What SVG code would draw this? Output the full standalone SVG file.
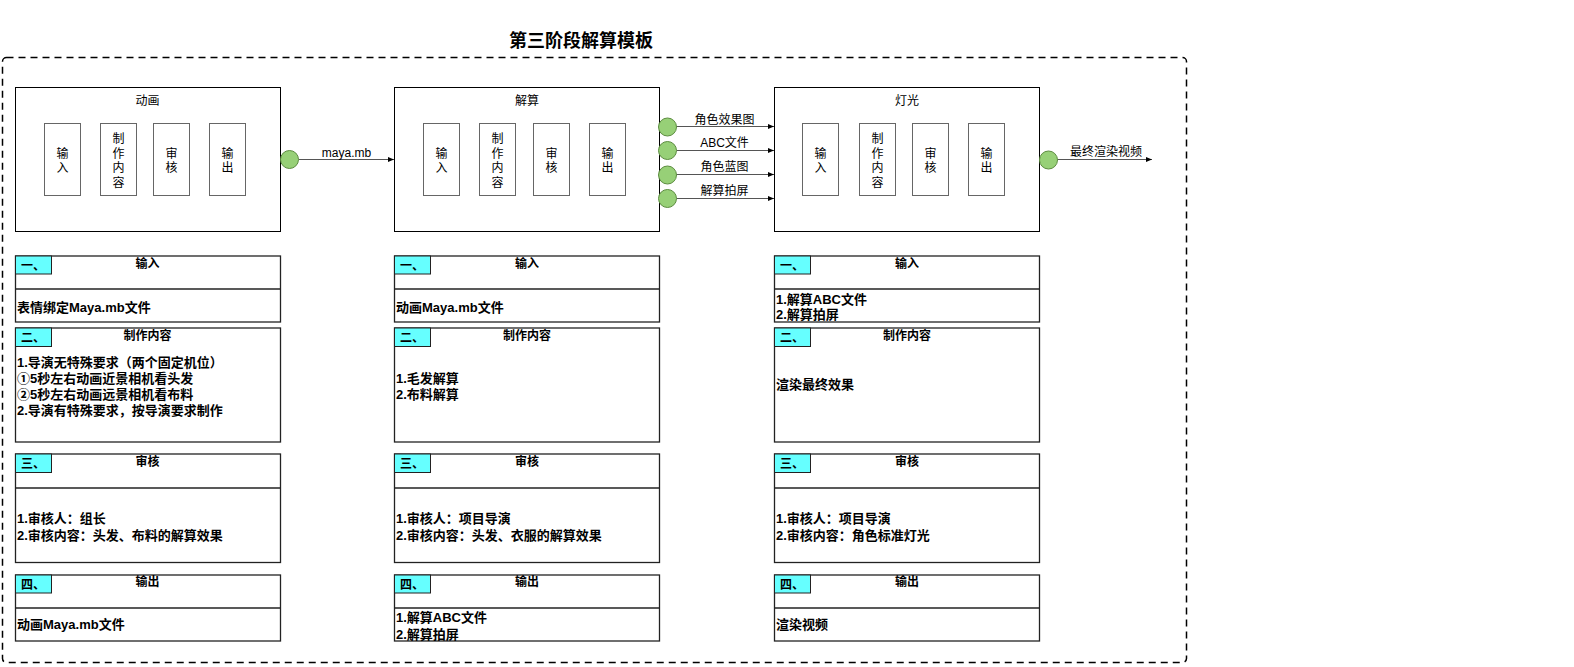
<svg xmlns="http://www.w3.org/2000/svg" width="1574" height="667" viewBox="0 0 1574 667">
<style>
text{font-family:"Liberation Sans","Noto Sans CJK SC",sans-serif;fill:#000}
.title{font-size:18px;font-weight:bold}
.nt{font-size:12px;text-anchor:middle}
.lbl{font-size:12px;text-anchor:middle}
.st{font-size:12px;font-weight:bold;text-anchor:middle}
.sl{font-size:12px;font-weight:bold}
.ct{font-size:13px;font-weight:bold}
.box{fill:#fff;stroke:#000;stroke-width:1}
.inner{fill:#fff;stroke:#666;stroke-width:1}
.sec{fill:#fff;stroke:#222;stroke-width:1.3}
.div{stroke:#222;stroke-width:1.3}
.cyan{fill:#66ffff;stroke:#222;stroke-width:1}
.dot{fill:#97d077;stroke:#5b8c3e;stroke-width:1}
.edge{stroke:#555;stroke-width:1;fill:none;marker-end:url(#arr)}
</style>
<defs>
<marker id="arr" viewBox="0 0 10 10" refX="10" refY="5" markerWidth="6" markerHeight="6" markerUnits="userSpaceOnUse" orient="auto">
<path d="M0,1 L10,5 L0,9 Z" fill="#000"/>
</marker>
</defs>
<rect x="0" y="0" width="1574" height="667" fill="#fff"/>
<text class="title" x="581" y="47" text-anchor="middle">第三阶段解算模板</text>
<rect id="container" x="2.5" y="57.5" width="1184" height="605" rx="4" ry="4" fill="none" stroke="#000" stroke-width="1.5" stroke-dasharray="7 5"/>

<g id="node-donghua">
<rect class="box" x="15.5" y="87.5" width="265" height="144"/>
<text class="nt" x="147.5" y="105">动画</text>
<rect class="inner" x="44.5" y="123.5" width="36" height="72"/>
<text class="nt" x="62.5" y="157.5">输</text><text class="nt" x="62.5" y="172">入</text>
<rect class="inner" x="100.5" y="123.5" width="36" height="72"/>
<text class="nt" x="118.5" y="143">制</text><text class="nt" x="118.5" y="157.5">作</text><text class="nt" x="118.5" y="172">内</text><text class="nt" x="118.5" y="187">容</text>
<rect class="inner" x="153.5" y="123.5" width="36" height="72"/>
<text class="nt" x="171.5" y="157.5">审</text><text class="nt" x="171.5" y="172">核</text>
<rect class="inner" x="209.5" y="123.5" width="36" height="72"/>
<text class="nt" x="227.5" y="157.5">输</text><text class="nt" x="227.5" y="172">出</text>
</g>

<g id="node-jiesuan">
<rect class="box" x="394.5" y="87.5" width="265" height="144"/>
<text class="nt" x="527" y="105">解算</text>
<rect class="inner" x="423.5" y="123.5" width="36" height="72"/>
<text class="nt" x="441.5" y="157.5">输</text><text class="nt" x="441.5" y="172">入</text>
<rect class="inner" x="479.5" y="123.5" width="36" height="72"/>
<text class="nt" x="497.5" y="143">制</text><text class="nt" x="497.5" y="157.5">作</text><text class="nt" x="497.5" y="172">内</text><text class="nt" x="497.5" y="187">容</text>
<rect class="inner" x="533.5" y="123.5" width="36" height="72"/>
<text class="nt" x="551.5" y="157.5">审</text><text class="nt" x="551.5" y="172">核</text>
<rect class="inner" x="589.5" y="123.5" width="36" height="72"/>
<text class="nt" x="607.5" y="157.5">输</text><text class="nt" x="607.5" y="172">出</text>
</g>

<g id="node-dengguang">
<rect class="box" x="774.5" y="87.5" width="265" height="144"/>
<text class="nt" x="907" y="105">灯光</text>
<rect class="inner" x="802.5" y="123.5" width="36" height="72"/>
<text class="nt" x="820.5" y="157.5">输</text><text class="nt" x="820.5" y="172">入</text>
<rect class="inner" x="859.5" y="123.5" width="36" height="72"/>
<text class="nt" x="877.5" y="143">制</text><text class="nt" x="877.5" y="157.5">作</text><text class="nt" x="877.5" y="172">内</text><text class="nt" x="877.5" y="187">容</text>
<rect class="inner" x="912.5" y="123.5" width="36" height="72"/>
<text class="nt" x="930.5" y="157.5">审</text><text class="nt" x="930.5" y="172">核</text>
<rect class="inner" x="968.5" y="123.5" width="36" height="72"/>
<text class="nt" x="986.5" y="157.5">输</text><text class="nt" x="986.5" y="172">出</text>
</g>

<g id="connectors">
<path class="edge" d="M298.5,159.5 L394,159.5"/>
<text class="lbl" x="346.5" y="156.5">maya.mb</text>
<path class="edge" d="M676.5,126.5 L774,126.5"/>
<text class="lbl" x="724.5" y="123.5">角色效果图</text>
<path class="edge" d="M676.5,150.5 L774,150.5"/>
<text class="lbl" x="724.5" y="146.5">ABC文件</text>
<path class="edge" d="M676.5,174.5 L774,174.5"/>
<text class="lbl" x="724.5" y="171">角色蓝图</text>
<path class="edge" d="M676.5,198.5 L774,198.5"/>
<text class="lbl" x="724.5" y="194.5">解算拍屏</text>
<path class="edge" d="M1057.5,159.5 L1152,159.5"/>
<text class="lbl" x="1106" y="156">最终渲染视频</text>
</g>

<g id="ports">
<circle class="dot" cx="289.5" cy="159.5" r="9"/>
<circle class="dot" cx="667.5" cy="127" r="9"/>
<circle class="dot" cx="667.5" cy="150.5" r="9"/>
<circle class="dot" cx="667.5" cy="175" r="9"/>
<circle class="dot" cx="667.5" cy="198.5" r="9"/>
<circle class="dot" cx="1048.5" cy="160" r="9"/>
</g>

<!-- Column A -->
<g id="a-input">
<rect class="sec" x="15.5" y="256" width="265" height="66"/>
<line class="div" x1="15.5" y1="289" x2="280.5" y2="289"/>
<rect class="cyan" x="15.5" y="256" width="36" height="18"/>
<text class="sl" x="21" y="269.5">一、</text>
<text class="st" x="147.5" y="268">输入</text>
<text class="ct" x="17" y="312">表情绑定Maya.mb文件</text>
</g>
<g id="a-make">
<rect class="sec" x="15.5" y="328" width="265" height="114"/>
<rect class="cyan" x="15.5" y="328" width="36" height="18.5"/>
<text class="sl" x="21" y="341.5">二、</text>
<text class="st" x="147.5" y="340">制作内容</text>
<text class="ct" x="17" y="367">1.导演无特殊要求（两个固定机位）</text>
<text class="ct" x="17" y="383">①5秒左右动画近景相机看头发</text>
<text class="ct" x="17" y="399">②5秒左右动画远景相机看布料</text>
<text class="ct" x="17" y="415">2.导演有特殊要求，按导演要求制作</text>
</g>
<g id="a-review">
<rect class="sec" x="15.5" y="454" width="265" height="108.5"/>
<line class="div" x1="15.5" y1="488" x2="280.5" y2="488"/>
<rect class="cyan" x="15.5" y="454" width="36" height="18.5"/>
<text class="sl" x="21" y="467.5">三、</text>
<text class="st" x="147.5" y="466">审核</text>
<text class="ct" x="17" y="522.5">1.审核人：组长</text>
<text class="ct" x="17" y="539.5">2.审核内容：头发、布料的解算效果</text>
</g>
<g id="a-output">
<rect class="sec" x="15.5" y="575" width="265" height="66"/>
<line class="div" x1="15.5" y1="608" x2="280.5" y2="608"/>
<rect class="cyan" x="15.5" y="575" width="36" height="18"/>
<text class="sl" x="21" y="588.5">四、</text>
<text class="st" x="147.5" y="586">输出</text>
<text class="ct" x="17" y="629">动画Maya.mb文件</text>
</g>

<!-- Column B -->
<g id="b-input">
<rect class="sec" x="394.5" y="256" width="265" height="66"/>
<line class="div" x1="394.5" y1="289" x2="659.5" y2="289"/>
<rect class="cyan" x="394.5" y="256" width="36" height="18"/>
<text class="sl" x="400" y="269.5">一、</text>
<text class="st" x="527" y="268">输入</text>
<text class="ct" x="396" y="312">动画Maya.mb文件</text>
</g>
<g id="b-make">
<rect class="sec" x="394.5" y="328" width="265" height="114"/>
<rect class="cyan" x="394.5" y="328" width="36" height="18.5"/>
<text class="sl" x="400" y="341.5">二、</text>
<text class="st" x="527" y="340">制作内容</text>
<text class="ct" x="396" y="383">1.毛发解算</text>
<text class="ct" x="396" y="398.5">2.布料解算</text>
</g>
<g id="b-review">
<rect class="sec" x="394.5" y="454" width="265" height="108.5"/>
<line class="div" x1="394.5" y1="488" x2="659.5" y2="488"/>
<rect class="cyan" x="394.5" y="454" width="36" height="18.5"/>
<text class="sl" x="400" y="467.5">三、</text>
<text class="st" x="527" y="466">审核</text>
<text class="ct" x="396" y="522.5">1.审核人：项目导演</text>
<text class="ct" x="396" y="539.5">2.审核内容：头发、衣服的解算效果</text>
</g>
<g id="b-output">
<rect class="sec" x="394.5" y="575" width="265" height="66"/>
<line class="div" x1="394.5" y1="608" x2="659.5" y2="608"/>
<rect class="cyan" x="394.5" y="575" width="36" height="18"/>
<text class="sl" x="400" y="588.5">四、</text>
<text class="st" x="527" y="586">输出</text>
<text class="ct" x="396" y="622">1.解算ABC文件</text>
<text class="ct" x="396" y="638.5">2.解算拍屏</text>
</g>

<!-- Column C -->
<g id="c-input">
<rect class="sec" x="774.5" y="256" width="265" height="66"/>
<line class="div" x1="774.5" y1="289" x2="1039.5" y2="289"/>
<rect class="cyan" x="774.5" y="256" width="36" height="18"/>
<text class="sl" x="780" y="269.5">一、</text>
<text class="st" x="907" y="268">输入</text>
<text class="ct" x="776" y="303.5">1.解算ABC文件</text>
<text class="ct" x="776" y="318.5">2.解算拍屏</text>
</g>
<g id="c-make">
<rect class="sec" x="774.5" y="328" width="265" height="114"/>
<rect class="cyan" x="774.5" y="328" width="36" height="18.5"/>
<text class="sl" x="780" y="341.5">二、</text>
<text class="st" x="907" y="340">制作内容</text>
<text class="ct" x="776" y="389">渲染最终效果</text>
</g>
<g id="c-review">
<rect class="sec" x="774.5" y="454" width="265" height="108.5"/>
<line class="div" x1="774.5" y1="488" x2="1039.5" y2="488"/>
<rect class="cyan" x="774.5" y="454" width="36" height="18.5"/>
<text class="sl" x="780" y="467.5">三、</text>
<text class="st" x="907" y="466">审核</text>
<text class="ct" x="776" y="522.5">1.审核人：项目导演</text>
<text class="ct" x="776" y="539.5">2.审核内容：角色标准灯光</text>
</g>
<g id="c-output">
<rect class="sec" x="774.5" y="575" width="265" height="66"/>
<line class="div" x1="774.5" y1="608" x2="1039.5" y2="608"/>
<rect class="cyan" x="774.5" y="575" width="36" height="18"/>
<text class="sl" x="780" y="588.5">四、</text>
<text class="st" x="907" y="586">输出</text>
<text class="ct" x="776" y="629">渲染视频</text>
</g>
</svg>
